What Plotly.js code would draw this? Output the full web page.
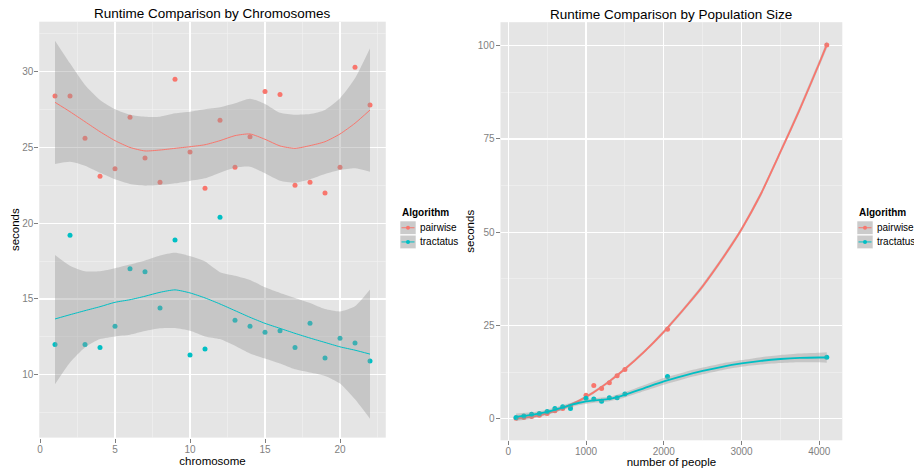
<!DOCTYPE html>
<html>
<head>
<meta charset="utf-8">
<script src="https://cdn.plot.ly/plotly-3.0.1.min.js"></script>
<style>html,body{margin:0;padding:0;background:#fff;}#chart{width:914px;height:468px;}</style>
</head>
<body>
<div id="chart"></div>
<script>
// ---------- Left panel: runtime by chromosome ----------
const chromosomes = [1,2,3,4,5,6,7,8,9,10,11,12,13,14,15,16,17,18,19,20,21,22];
const chromPairwise = [28.4,28.4,25.6,23.1,23.6,27.0,24.3,22.7,29.5,24.7,22.3,26.8,23.7,25.7,28.7,28.5,22.5,22.7,22.0,23.7,30.3,27.8];
const chromTractatus = [12.0,19.2,12.0,11.8,13.2,17.0,16.8,14.4,18.9,11.3,11.7,20.4,13.6,13.2,12.8,12.9,11.8,13.4,11.1,12.4,12.1,10.9];

// smoother (loess)
const chromFitPairwise = [27.98,27.36,26.7,26.04,25.45,25.0,24.77,24.83,24.94,25.05,25.18,25.45,25.78,25.89,25.54,25.1,24.94,25.12,25.38,25.89,26.6,27.47];
const chromLoPairwise  = [23.91,24.06,23.8,23.33,22.9,22.59,22.48,22.52,22.63,22.79,22.96,23.33,23.66,23.73,23.29,22.8,22.67,22.9,23.25,23.51,23.62,23.4];
const chromHiPairwise  = [32.05,30.55,29.12,28.13,27.52,27.16,27.03,27.03,27.25,27.36,27.52,27.65,27.91,28.22,27.87,27.29,27.16,27.2,27.47,28.24,29.56,31.54];
const chromFitTractatus = [13.68,13.96,14.23,14.49,14.78,14.95,15.18,15.44,15.6,15.4,15.07,14.67,14.23,13.79,13.39,13.06,12.73,12.42,12.13,11.84,11.62,11.36];
const chromLoTractatus  = [9.37,10.81,11.8,12.35,12.53,12.64,12.88,13.06,13.08,12.9,12.53,12.35,11.91,11.4,11.07,10.74,10.36,10.15,9.92,9.42,8.38,7.1];
const chromHiTractatus  = [17.91,17.2,16.83,16.83,17.03,17.27,17.54,17.87,18.05,17.83,17.47,16.77,16.54,16.26,15.77,15.4,15.07,14.74,14.34,14.18,14.52,15.62];

// ---------- Right panel: runtime by population size ----------
const popSizes = [100,200,300,400,500,600,700,800,1000,1100,1200,1300,1400,1500,2048,4096];
const popPairwise = [0.1,0.3,0.6,0.9,1.4,2.1,2.7,3.3,6.3,8.9,8.1,9.6,11.5,13.2,24.0,100.2];
const popTractatus = [0.3,0.7,1.2,1.4,1.9,2.7,3.2,2.7,5.5,5.3,4.7,5.6,5.6,6.6,11.3,16.5];

const popCurveX = [100,300,500,700,900,1100,1300,1500,1750,2000,2250,2500,2750,3000,3250,3500,3750,4000,4096];
const popFitPairwise = [0.1,0.5,1.4,2.8,4.7,7.1,10.0,13.3,18.0,23.3,29.2,35.5,42.8,50.8,60.3,71.5,83.0,95.3,100.2];
const popLoPairwise  = [-0.6,0.0,1.0,2.4,4.3,6.7,9.6,12.9,17.6,22.8,28.7,34.9,42.2,50.2,59.6,70.8,82.2,94.4,99.2];
const popHiPairwise  = [0.8,1.0,1.8,3.2,5.1,7.5,10.4,13.7,18.4,23.8,29.7,36.1,43.4,51.4,61.0,72.2,83.8,96.2,101.2];
const popFitTractatus = [0.5,1.0,1.8,3.0,4.2,4.9,5.3,6.4,8.2,10.0,11.5,12.8,13.9,14.8,15.5,16.0,16.3,16.4,16.4];
const popLoTractatus  = [-0.4,0.3,1.2,2.4,3.6,4.3,4.7,5.7,7.4,9.1,10.6,11.9,13.0,13.9,14.5,14.9,15.1,15.1,15.0];
const popHiTractatus  = [1.4,1.7,2.4,3.6,4.8,5.5,5.9,7.1,9.0,10.9,12.4,13.7,14.8,15.7,16.5,17.1,17.5,17.7,17.8];

const seriesNames = ['pairwise','tractatus'];
const seriesColors = ['#F8766D','#00BFC4'];
const legendTitle = 'Algorithm';
const titles = ['Runtime Comparison by Chromosomes','Runtime Comparison by Population Size'];

const RIBBON = 'rgba(153,153,153,0.4)';
const FONT = 'Liberation Sans, Arial, Helvetica, sans-serif';

function group(x, y, cx, fit, lo, hi, color, name, xa, ya, lw) {
  return [
    {x: x, y: y, type: 'scatter', mode: 'markers', name: name, showlegend: false,
     marker: {color: color, size: 5, line: {width: 0}}, xaxis: xa, yaxis: ya, hoverinfo: 'x+y'},
    {x: cx, y: lo, type: 'scatter', mode: 'lines', line: {width: 0, color: RIBBON, shape: 'spline', smoothing: 0.6}, showlegend: false,
     xaxis: xa, yaxis: ya, hoverinfo: 'skip'},
    {x: cx, y: hi, type: 'scatter', mode: 'lines', line: {width: 0, color: RIBBON, shape: 'spline', smoothing: 0.6}, fill: 'tonexty',
     fillcolor: RIBBON, showlegend: false, xaxis: xa, yaxis: ya, hoverinfo: 'skip'},
    {x: cx, y: fit, type: 'scatter', mode: 'lines', line: {width: lw, color: color, shape: 'spline', smoothing: 0.6},
     showlegend: false, xaxis: xa, yaxis: ya, hoverinfo: 'skip'}
  ];
}

const traces = [].concat(
  group(chromosomes, chromPairwise, chromosomes, chromFitPairwise, chromLoPairwise, chromHiPairwise, seriesColors[0], seriesNames[0], 'x', 'y', 1),
  group(chromosomes, chromTractatus, chromosomes, chromFitTractatus, chromLoTractatus, chromHiTractatus, seriesColors[1], seriesNames[1], 'x', 'y', 1),
  group(popSizes, popPairwise, popCurveX, popFitPairwise, popLoPairwise, popHiPairwise, seriesColors[0], seriesNames[0], 'x2', 'y2', 1.8),
  group(popSizes, popTractatus, popCurveX, popFitTractatus, popLoTractatus, popHiTractatus, seriesColors[1], seriesNames[1], 'x2', 'y2', 1.8)
);

const W = 914, H = 468;
function axisBase(extra) {
  return Object.assign({
    showgrid: true, gridcolor: '#FFFFFF', gridwidth: 1.3, zeroline: false, showline: false,
    ticks: 'outside', ticklen: 4, tickwidth: 1, tickcolor: '#7F7F7F',
    tickfont: {family: FONT, size: 10, color: '#7F7F7F'},
    automargin: false, fixedrange: true
  }, extra);
}

const leftX = [39.25, 385.75], leftY = [21.7, 437.6];
const rightX = [500.5, 842.3], rightY = [22.2, 440.3];

const layout = {
  width: W, height: H,
  margin: {l: 0, r: 0, t: 0, b: 0},
  paper_bgcolor: '#FFFFFF',
  plot_bgcolor: '#E5E5E5',
  showlegend: false,
  font: {family: FONT},
  xaxis: axisBase({domain: [leftX[0]/W, leftX[1]/W], range: [-0.05, 23.05], tickvals: [0,5,10,15,20], ticklabelstandoff: -2,
    minor: {dtick: 2.5, tick0: 0, showgrid: true, gridcolor: '#F2F2F2', gridwidth: 0.6},
    title: {text: 'chromosome', font: {family: FONT, size: 11.5, color: '#000'}, standoff: 1}, anchor: 'y'}),
  yaxis: axisBase({domain: [1 - leftY[1]/H, 1 - leftY[0]/H], range: [5.85, 33.3], tickvals: [10,15,20,25,30], ticklabelstandoff: -1,
    minor: {dtick: 2.5, tick0: 0, showgrid: true, gridcolor: '#F2F2F2', gridwidth: 0.6},
    title: {text: 'seconds', font: {family: FONT, size: 11.5, color: '#000'}, standoff: 0}, anchor: 'x'}),
  xaxis2: axisBase({domain: [rightX[0]/W, rightX[1]/W], range: [-99.8, 4295.8], tickvals: [0,1000,2000,3000,4000], ticklabelstandoff: -2,
    minor: {dtick: 500, tick0: 0, showgrid: true, gridcolor: '#F2F2F2', gridwidth: 0.6},
    title: {text: 'number of people', font: {family: FONT, size: 11.5, color: '#000'}, standoff: 2}, anchor: 'y2'}),
  yaxis2: axisBase({domain: [1 - rightY[1]/H, 1 - rightY[0]/H], range: [-5.8, 106.3], tickvals: [0,25,50,75,100], ticklabelstandoff: -1,
    minor: {dtick: 12.5, tick0: 0, showgrid: true, gridcolor: '#F2F2F2', gridwidth: 0.6},
    title: {text: 'seconds', font: {family: FONT, size: 11.5, color: '#000'}, standoff: 0}, anchor: 'x2'}),
  annotations: [],
  shapes: []
};

// panel titles
layout.annotations.push({text: titles[0], xref: 'paper', yref: 'paper', x: ((leftX[0]+leftX[1])/2)/W, y: 1 - 13.3/H,
  xanchor: 'center', yanchor: 'middle', showarrow: false, font: {family: FONT, size: 13.5, color: '#000'}});
layout.annotations.push({text: titles[1], xref: 'paper', yref: 'paper', x: ((rightX[0]+rightX[1])/2)/W, y: 1 - 14/H,
  xanchor: 'center', yanchor: 'middle', showarrow: false, font: {family: FONT, size: 13.5, color: '#000'}});

// legends (ggplot-style keys)
function addLegend(x0) {
  layout.annotations.push({text: '<b>' + legendTitle + '</b>', xref: 'paper', yref: 'paper', x: x0/W, y: 1 - 212.5/H,
    xanchor: 'left', yanchor: 'middle', showarrow: false, font: {family: FONT, size: 10, color: '#000'}});
  seriesNames.forEach(function(nm, i) {
    const top = 221 + i*14.2, bot = top + 13.5, mid = (top + bot)/2;
    layout.shapes.push({type: 'rect', xref: 'paper', yref: 'paper', x0: x0/W, x1: (x0+16)/W, y0: 1 - bot/H, y1: 1 - top/H,
      fillcolor: '#CBCBCB', line: {width: 0.6, color: '#FFFFFF'}, layer: 'above'});
    layout.shapes.push({type: 'line', xref: 'paper', yref: 'paper', x0: (x0+1.5)/W, x1: (x0+14.5)/W, y0: 1 - mid/H, y1: 1 - mid/H,
      line: {width: 1, color: seriesColors[i]}, layer: 'above'});
    layout.shapes.push({type: 'circle', xref: 'paper', yref: 'paper', x0: (x0+6)/W, x1: (x0+10)/W, y0: 1 - (mid+2)/H, y1: 1 - (mid-2)/H,
      fillcolor: seriesColors[i], line: {width: 0}, layer: 'above'});
    layout.annotations.push({text: nm, xref: 'paper', yref: 'paper', x: (x0+17.5)/W, y: 1 - mid/H,
      xanchor: 'left', yanchor: 'middle', showarrow: false, font: {family: FONT, size: 10, color: '#000'}});
  });
}
addLegend(400);
addLegend(857);

Plotly.newPlot('chart', traces, layout, {displayModeBar: false, staticPlot: true});
</script>
</body>
</html>
